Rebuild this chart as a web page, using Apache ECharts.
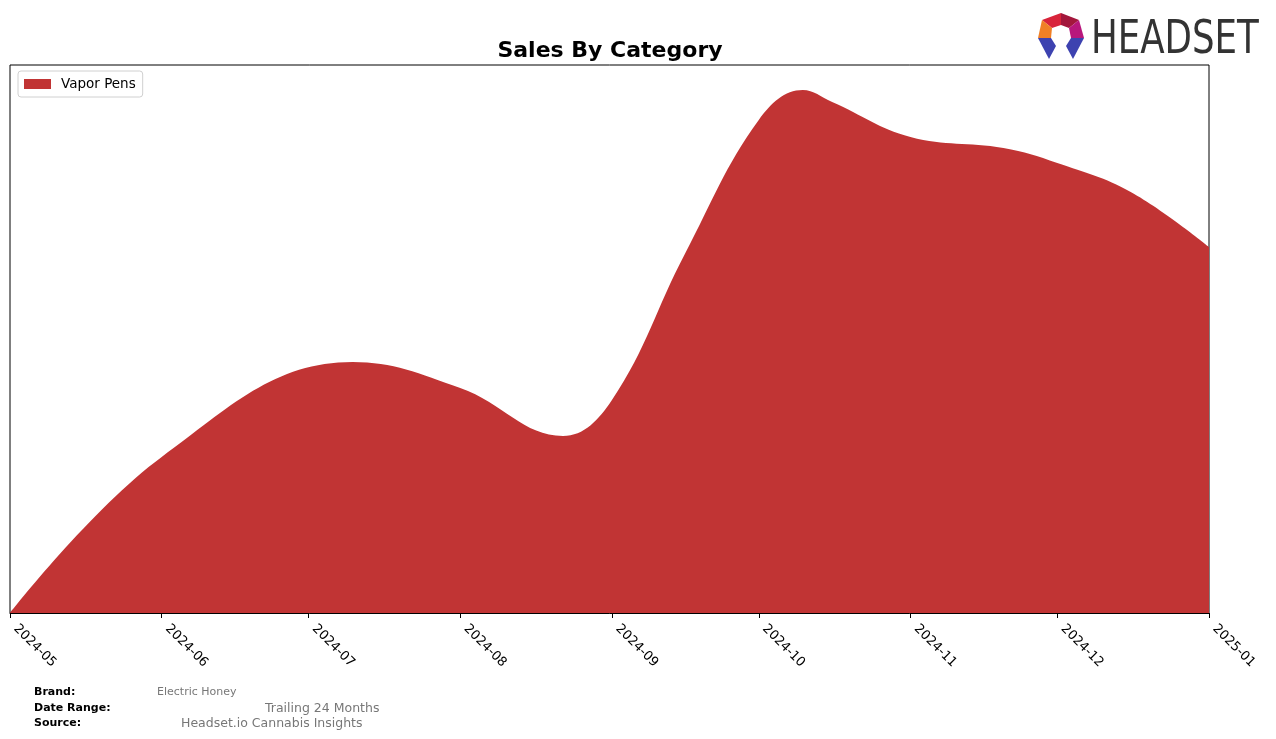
<!DOCTYPE html>
<html>
<head>
<meta charset="utf-8">
<script src="https://cdn.jsdelivr.net/npm/echarts@6/dist/echarts.min.js"></script>
<style>
html,body{margin:0;padding:0;background:#fff;}
#c{width:1276px;height:739px;}
</style>
</head>
<body>
<div id="c"></div>
<script>
// Values (arbitrary units; the y axis carries no labels)
var dates = ['2024-05-01','2024-06-01','2024-07-10','2024-08-01','2024-08-22',
             '2024-09-01','2024-09-16','2024-10-01','2024-10-10','2024-10-16','2024-11-01','2024-11-20',
             '2024-12-01','2024-12-16','2025-01-01'];
var vaporPens = [0, 156, 251, 225, 177, 213, 360, 493, 523, 511, 476, 465, 450, 421, 366];
var seriesName = 'Vapor Pens';
var axisStart = '2024-05-01';
var axisEnd = '2025-01-01';

var chart = echarts.init(document.getElementById('c'), null, {renderer:'canvas'});
var pts = dates.map(function(d,i){return [d, vaporPens[i]];});
var red = '#c13434';

var option = {
  animation:false,
  backgroundColor:'#fff',
  legend:{left:18, top:71, data:[{name:seriesName, icon:'rect'}],
    itemWidth:27, itemHeight:10, itemGap:10,
    backgroundColor:'#fff', borderColor:'#d0d0d0', borderWidth:1, borderRadius:3,
    padding:[6,7,6,6],
    textStyle:{fontFamily:'DejaVu Sans', fontSize:13.5, color:'#000', padding:[0,0,0,5]}},
  grid:{left:10, right:67, top:65, bottom:126, show:true, borderColor:'#000', borderWidth:1, backgroundColor:'transparent'},
  xAxis:{type:'time', min:axisStart, max:axisEnd,
    minInterval:28*86400000, maxInterval:31*86400000,
    axisLine:{show:true, lineStyle:{color:'#000', width:1}},
    axisTick:{show:true, length:5, lineStyle:{color:'#000'}},
    splitLine:{show:false},
    axisLabel:{rotate:-45, fontFamily:'DejaVu Sans', fontSize:13, color:'#000', margin:8, padding:[0,0,0,8],
      formatter:function(v){var d=new Date(v); var m=d.getMonth()+1; return d.getFullYear()+'-'+(m<10?'0':'')+m;},
      showMinLabel:true, showMaxLabel:true, hideOverlap:false}
  },
  yAxis:{type:'value', min:0, max:548, show:true,
    axisLine:{show:false}, axisTick:{show:false}, axisLabel:{show:false}, splitLine:{show:false}},
  series:[{name:seriesName, type:'line', data:pts, smooth:0.4, symbol:'none',
    lineStyle:{width:0, color:red}, itemStyle:{color:red},
    areaStyle:{color:red, opacity:1}}],
  graphic:[
    {type:'text', x:610, y:51, style:{text:'Sales By Category', fontFamily:'DejaVu Sans', fontSize:22, fontWeight:'bold', fill:'#000', textAlign:'center', textVerticalAlign:'middle'}},
    // HEADSET logo mark
    {type:'polygon', shape:{points:[[1042,20],[1061,13],[1061,25],[1052,28]]}, style:{fill:'#d8243a'}},
    {type:'polygon', shape:{points:[[1061,13],[1079,20],[1069,28],[1061,25]]}, style:{fill:'#a3173c'}},
    {type:'polygon', shape:{points:[[1079,20],[1084,38],[1071,38],[1069,28]]}, style:{fill:'#b8177c'}},
    {type:'polygon', shape:{points:[[1042,20],[1052,28],[1051,38],[1038,38]]}, style:{fill:'#f08026'}},
    {type:'polygon', shape:{points:[[1038,38],[1051,38],[1056,46],[1049,59]]}, style:{fill:'#3d42b0'}},
    {type:'polygon', shape:{points:[[1071,38],[1084,38],[1073,59],[1066,46]]}, style:{fill:'#3d42b0'}},
    {type:'text', left:1091, top:18, style:{text:'HEADSET', fontFamily:'DejaVu Sans Condensed, DejaVu Sans', fontSize:46, fill:'#333', fontWeight:'normal'}, scaleX:0.86},
    // footer
    {type:'text', left:34, top:687, style:{text:'Brand:', fontFamily:'DejaVu Sans', fontSize:11, fontWeight:'bold', fill:'#000'}},
    {type:'text', left:34, top:703, style:{text:'Date Range:', fontFamily:'DejaVu Sans', fontSize:11, fontWeight:'bold', fill:'#000'}},
    {type:'text', left:34, top:718, style:{text:'Source:', fontFamily:'DejaVu Sans', fontSize:11, fontWeight:'bold', fill:'#000'}},
    {type:'text', left:157, top:687, style:{text:'Electric Honey', fontFamily:'DejaVu Sans', fontSize:11, fill:'#777'}},
    {type:'text', left:265, top:702, style:{text:'Trailing 24 Months', fontFamily:'DejaVu Sans', fontSize:12.5, fill:'#777'}},
    {type:'text', left:181, top:717, style:{text:'Headset.io Cannabis Insights', fontFamily:'DejaVu Sans', fontSize:12.5, fill:'#777'}}
  ]
};
chart.setOption(option);
</script>
</body>
</html>
